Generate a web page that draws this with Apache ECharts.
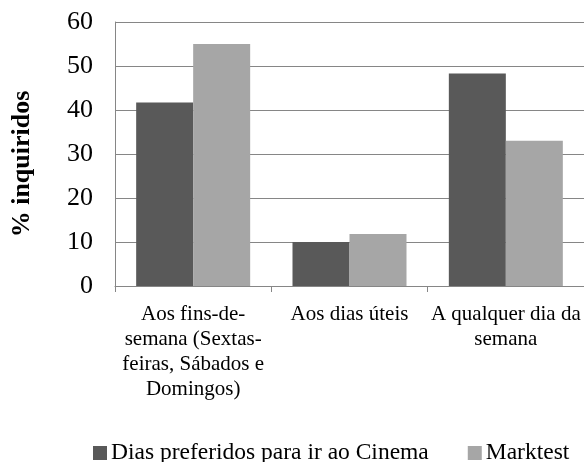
<!DOCTYPE html>
<html>
<head>
<meta charset="utf-8">
<script src="https://cdn.jsdelivr.net/npm/echarts@6/dist/echarts.min.js"></script>
<style>
  html, body { margin: 0; padding: 0; background: #fff; }
  #chart { width: 584px; height: 462px; }
</style>
</head>
<body>
<div id="chart"></div>
<script>
const categories = [
    'Aos fins-de-\nsemana (Sextas-\nfeiras, Sábados e\nDomingos)',
    'Aos dias úteis',
    'A qualquer dia da\nsemana'
];
const cinemaValues = [41.7, 10, 48.3];
const marktestValues = [55, 11.8, 33];
const yTicks = { min: 0, max: 60, interval: 10 };

const chart = echarts.init(document.getElementById('chart'));

const font = '"Liberation Serif", "Times New Roman", serif';

const option = {
    animation: false,
    textStyle: { fontFamily: font },
    grid: {
        left: 115,
        top: 22,
        width: 470,
        bottom: 176
    },
    legend: {
        top: 436,
        left: 88,
        itemWidth: 14,
        itemHeight: 14,
        itemGap: 39,
        icon: 'rect',
        textStyle: { fontFamily: font, fontSize: 23.5, color: '#000', padding: [0, 0, 0, -1] },
        data: ['Dias preferidos para ir ao Cinema', 'Marktest']
    },
    xAxis: {
        type: 'category',
        data: categories,
        axisLine: { lineStyle: { color: '#868686', width: 1 } },
        axisTick: { show: true, length: 6, lineStyle: { color: '#868686' } },
        axisLabel: {
            interval: 0,
            margin: 16,
            color: '#000',
            fontFamily: font,
            fontSize: 21,
            lineHeight: 24.9
        }
    },
    yAxis: {
        type: 'value',
        min: yTicks.min,
        max: yTicks.max,
        interval: yTicks.interval,
        name: '% inquiridos',
        nameLocation: 'middle',
        nameGap: 80,
        nameTextStyle: {
            fontFamily: font, fontSize: 26, fontWeight: 'bold', color: '#000',
            padding: [0, 20, 0, 0]
        },
        axisLine: { show: true, lineStyle: { color: '#868686' } },
        axisTick: { show: false },
        axisLabel: { color: '#000', fontFamily: font, fontSize: 26, margin: 22 },
        splitLine: { lineStyle: { color: '#868686', width: 1 } }
    },
    series: [
        {
            name: 'Dias preferidos para ir ao Cinema',
            type: 'bar',
            data: cinemaValues,
            barWidth: 57,
            barGap: '0%',
            itemStyle: { color: '#595959' }
        },
        {
            name: 'Marktest',
            type: 'bar',
            data: marktestValues,
            barWidth: 57,
            itemStyle: { color: '#a6a6a6' }
        }
    ]
};

chart.setOption(option);
</script>
</body>
</html>
